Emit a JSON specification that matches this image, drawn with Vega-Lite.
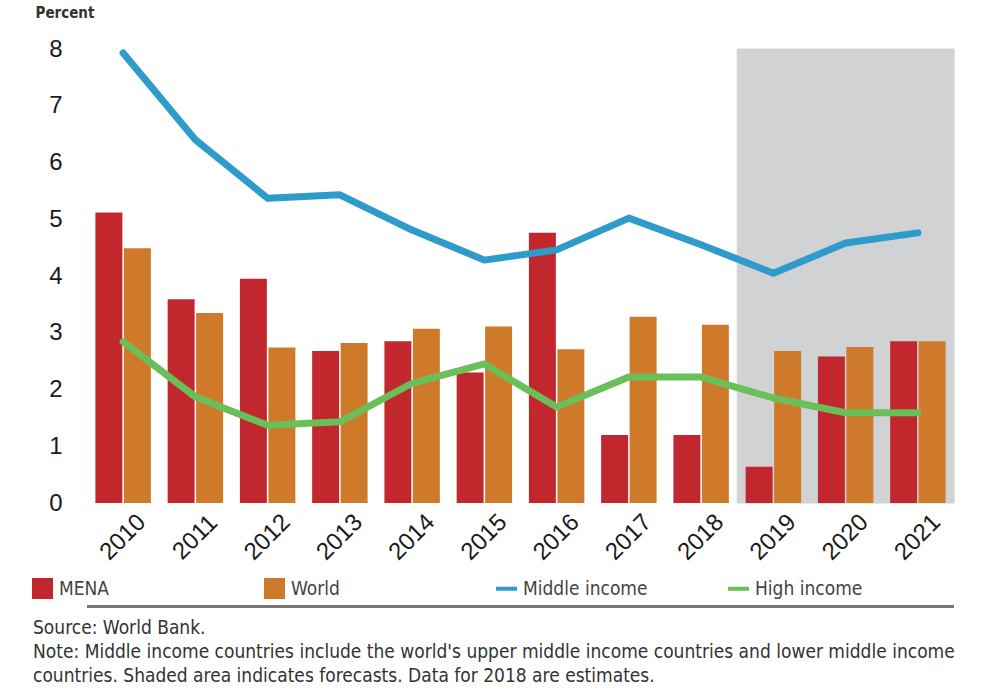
{
  "$schema": "https://vega.github.io/schema/vega-lite/v6.json",
  "autosize": "none",
  "width": 867,
  "height": 454,
  "padding": {"left": 87, "top": 49, "right": 35, "bottom": 193},
  "background": "white",
  "config": {"view": {"stroke": null}, "font": "Liberation Sans"},
  "datasets": {
    "growth": [
      {"year": "2010", "series": "MENA", "value": 5.12},
      {"year": "2011", "series": "MENA", "value": 3.59},
      {"year": "2012", "series": "MENA", "value": 3.95},
      {"year": "2013", "series": "MENA", "value": 2.68},
      {"year": "2014", "series": "MENA", "value": 2.85},
      {"year": "2015", "series": "MENA", "value": 2.3},
      {"year": "2016", "series": "MENA", "value": 4.76},
      {"year": "2017", "series": "MENA", "value": 1.2},
      {"year": "2018", "series": "MENA", "value": 1.2},
      {"year": "2019", "series": "MENA", "value": 0.64},
      {"year": "2020", "series": "MENA", "value": 2.58},
      {"year": "2021", "series": "MENA", "value": 2.85},
      {"year": "2010", "series": "World", "value": 4.49},
      {"year": "2011", "series": "World", "value": 3.35},
      {"year": "2012", "series": "World", "value": 2.74},
      {"year": "2013", "series": "World", "value": 2.82},
      {"year": "2014", "series": "World", "value": 3.07},
      {"year": "2015", "series": "World", "value": 3.11},
      {"year": "2016", "series": "World", "value": 2.71},
      {"year": "2017", "series": "World", "value": 3.28},
      {"year": "2018", "series": "World", "value": 3.14},
      {"year": "2019", "series": "World", "value": 2.68},
      {"year": "2020", "series": "World", "value": 2.75},
      {"year": "2021", "series": "World", "value": 2.85},
      {"year": "2010", "series": "Middle income", "value": 7.93},
      {"year": "2011", "series": "Middle income", "value": 6.4},
      {"year": "2012", "series": "Middle income", "value": 5.37},
      {"year": "2013", "series": "Middle income", "value": 5.43},
      {"year": "2014", "series": "Middle income", "value": 4.81},
      {"year": "2015", "series": "Middle income", "value": 4.28},
      {"year": "2016", "series": "Middle income", "value": 4.46},
      {"year": "2017", "series": "Middle income", "value": 5.02},
      {"year": "2018", "series": "Middle income", "value": 4.55},
      {"year": "2019", "series": "Middle income", "value": 4.05},
      {"year": "2020", "series": "Middle income", "value": 4.58},
      {"year": "2021", "series": "Middle income", "value": 4.76},
      {"year": "2010", "series": "High income", "value": 2.84},
      {"year": "2011", "series": "High income", "value": 1.87},
      {"year": "2012", "series": "High income", "value": 1.37},
      {"year": "2013", "series": "High income", "value": 1.43},
      {"year": "2014", "series": "High income", "value": 2.11},
      {"year": "2015", "series": "High income", "value": 2.45},
      {"year": "2016", "series": "High income", "value": 1.69},
      {"year": "2017", "series": "High income", "value": 2.22},
      {"year": "2018", "series": "High income", "value": 2.22},
      {"year": "2019", "series": "High income", "value": 1.85},
      {"year": "2020", "series": "High income", "value": 1.59},
      {"year": "2021", "series": "High income", "value": 1.59}
    ],
    "forecast": [
      {"year": "2019"},
      {"year": "2020"},
      {"year": "2021"}
    ]
  },
  "layer": [
    {
      "data": {"name": "forecast"},
      "mark": {"type": "rect", "color": "#d1d2d4", "stroke": "#d1d2d4", "strokeWidth": 1},
      "encoding": {
        "x": {"field": "year", "type": "nominal", "scale": {"domain": ["2010","2011","2012","2013","2014","2015","2016","2017","2018","2019","2020","2021"], "paddingInner": 0, "paddingOuter": 0}},
        "y": {"datum": 8, "type": "quantitative"},
        "y2": {"datum": 0}
      }
    },
    {
      "data": {"name": "growth"},
      "transform": [{"filter": "datum.series == 'MENA' || datum.series == 'World'"}],
      "mark": {"type": "bar"},
      "encoding": {
        "x": {
          "field": "year", "type": "nominal",
          "axis": {
            "title": null, "labelAngle": -45, "labelAlign": "center", "labelBaseline": "middle",
            "labelPadding": 34, "labelFontSize": 24, "labelColor": "#1a1a1a",
            "domain": false, "ticks": false
          }
        },
        "xOffset": {"field": "series", "type": "nominal", "scale": {"domain": ["MENA", "World"], "paddingInner": 0.053, "paddingOuter": 0.295}},
        "y": {
          "field": "value", "type": "quantitative",
          "scale": {"domain": [0, 8], "nice": false, "zero": true},
          "axis": {
            "values": [0,1,2,3,4,5,6,7,8], "format": "d", "domain": false, "ticks": false, "grid": false,
            "labelPadding": 25, "labelFontSize": 24, "labelColor": "#1a1a1a",
            "title": "Percent", "titleAngle": 0, "titleX": -52, "titleY": -37,
            "titleAlign": "left", "titleBaseline": "middle", "titleFontSize": 15,
            "titleFont": "DejaVu Sans Condensed", "titleFontWeight": "bold", "titleColor": "#333333"
          }
        },
        "color": {
          "field": "series", "type": "nominal",
          "scale": {"domain": ["MENA", "World", "Middle income", "High income"], "range": ["#c1272d", "#cf7a2b", "#2e9bcb", "#6abf59"]},
          "legend": {
            "orient": "none", "legendX": -54, "legendY": 530, "direction": "horizontal",
            "title": null, "padding": 0, "symbolSize": 441, "symbolType": "square",
            "labelFont": "DejaVu Sans Condensed", "labelFontSize": 19, "labelColor": "#444444",
            "labelOffset": 7, "columnPadding": 72, "gridAlign": "all",
            "encode": {
              "symbols": {
                "update": {
                  "shape": {"signal": "(datum.value == 'MENA' || datum.value == 'World') ? 'square' : 'stroke'"},
                  "fill": {"signal": "(datum.value == 'MENA' || datum.value == 'World') ? scale('color', datum.value) : 'transparent'"},
                  "stroke": {"signal": "(datum.value == 'MENA' || datum.value == 'World') ? 'transparent' : scale('color', datum.value)"},
                  "strokeWidth": {"signal": "(datum.value == 'MENA' || datum.value == 'World') ? 0 : 4"},
                  "opacity": {"value": 1},
                  "fillOpacity": {"value": 1}
                }
              }
            }
          }
        }
      }
    },
    {
      "data": {"name": "growth"},
      "transform": [{"filter": "datum.series == 'Middle income' || datum.series == 'High income'"}],
      "mark": {"type": "line", "strokeWidth": 7, "strokeCap": "round", "strokeJoin": "round"},
      "encoding": {
        "x": {"field": "year", "type": "nominal"},
        "y": {"field": "value", "type": "quantitative"},
        "color": {"field": "series", "type": "nominal"}
      }
    },
    {
      "data": {"values": [{}]},
      "mark": {"type": "rule", "color": "#777777", "strokeWidth": 3},
      "encoding": {
        "y": {"datum": -1.824, "type": "quantitative"}
      }
    }
  ],
  "title": {
    "text": [
      "Source: World Bank.",
      "Note: Middle income countries include the world's upper middle income countries and lower middle income",
      "countries. Shaded area indicates forecasts. Data for 2018 are estimates."
    ],
    "orient": "bottom", "anchor": "start", "frame": "group", "dx": -54, "offset": 11,
    "font": "DejaVu Sans Condensed", "fontSize": 19, "fontWeight": "normal",
    "color": "#333333", "lineHeight": 24
  }
}
